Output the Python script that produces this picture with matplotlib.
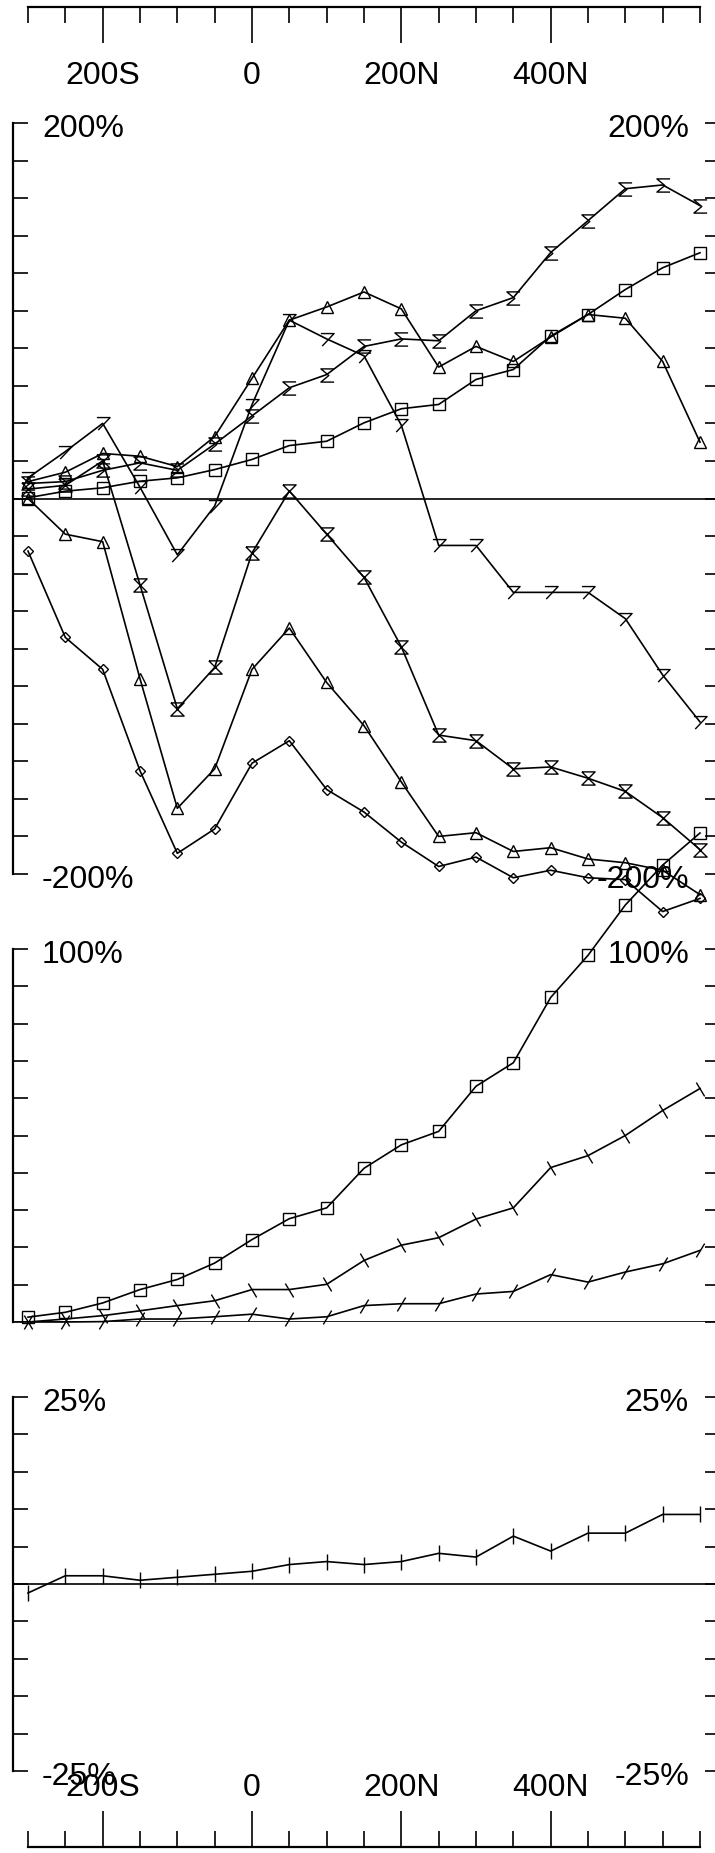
import matplotlib
matplotlib.use('Agg')
import matplotlib.pyplot as plt
from matplotlib.path import Path
import numpy as np

plt.rcParams['font.family'] = ['Liberation Sans', 'DejaVu Sans']

# distance along the section, negative = south
dist = [-300, -250, -200, -150, -100, -50, 0, 50, 100, 150, 200, 250, 300, 350, 400, 450, 500, 550, 600]
top_ticks = [-200, 0, 200, 400]
top_labels = ['200S', '0', '200N', '400N']

# panel 1 (-200% .. 200%)
p1_sigma = [8, 9, 15, 19, 15, 29, 44, 59, 66, 81, 85, 84, 100, 107, 131, 148, 165, 167, 156]
p1_square = [0.4, 3.9, 5.7, 9.2, 11, 15.4, 20.8, 28.2, 30.5, 40.3, 47.8, 50.1, 63.4, 68.7, 86.5, 98, 111.3, 122.9, 130.9]
p1_tri_up = [9, 14, 24, 22.5, 17, 33, 64, 95, 102, 110, 101, 70, 81, 73, 86, 98, 96, 73, 30]
p1_seven = [11, 25, 40, 6, -30, -4, 50, 95, 85, 76, 39, -25, -25, -50, -50, -50, -64, -94, -119]
p1_hourglass = [5, 7, 20, -46, -112, -90, -29, 4, -19, -42, -79, -126, -129, -144, -143, -149, -156, -170, -187]
p1_tri_low = [0, -19, -23, -96, -165, -144, -91, -69, -98, -121, -151, -180, -178, -188, -186, -192, -194, -198, -211]
p1_diamond = [-28, -74, -91, -145, -189, -176, -141, -129, -155, -167, -183, -196, -191, -202, -198, -202, -203, -220, -213]

# panel 2 (0 .. 100%)
p2_square = [1.3, 2.6, 5.1, 8.7, 11.4, 15.8, 22.1, 27.7, 30.6, 41.2, 47.5, 51.1, 63.2, 69.5, 87, 98.3, 111.8, 122.5, 131.1]
p2_mid = [0, 0.8, 1.7, 3.0, 4.4, 5.7, 8.7, 8.7, 10.1, 16.5, 20.6, 22.6, 27.6, 30.6, 41.4, 44.6, 50.0, 56.7, 62.6]
p2_low = [0, 0, 0.1, 0.8, 0.8, 1.4, 2.1, 0.8, 1.4, 4.4, 4.9, 4.9, 7.5, 8.2, 12.7, 10.7, 13.4, 15.6, 19.2]

# panel 3 (-25% .. 25%)
p3_vals = [-1.2, 1.1, 1.1, 0.5, 0.9, 1.3, 1.7, 2.6, 3.0, 2.6, 3.0, 4.1, 3.6, 6.4, 4.4, 6.8, 6.8, 9.3, 9.3]

# custom markers
M, L = Path.MOVETO, Path.LINETO
sigma = Path([(0.5, 0.5), (-0.5, 0.5), (0.1, 0), (-0.5, -0.5), (0.5, -0.5)], [M, L, L, L, L])
hourglass = Path([(-0.5, 0.5), (0.5, 0.5), (-0.5, -0.5), (0.5, -0.5), (-0.5, 0.5)], [M, L, L, L, L])
seven = Path([(-0.5, 0.45), (0.5, 0.45), (-0.4, -0.5)], [M, L, L])
slash = Path([(-0.3, -0.5), (0.3, 0.5)], [M, L])
bslash = Path([(-0.3, 0.5), (0.3, -0.5)], [M, L])

W, H = 715, 1853
LEFT, RIGHT = 12.5, 720.0
XMIN = -300 - (28 - LEFT) / (672 / 900)
XMAX = 600 + (RIGHT - 700) / (672 / 900)
FS = 23

fig = plt.figure(figsize=(W / 100, H / 100), dpi=100)


def add_axes(top, bottom):
    return fig.add_axes([LEFT / W, 1 - bottom / H, (RIGHT - LEFT) / W, (bottom - top) / H])


def panel(top, bottom, lo, hi, step, txt_hi, txt_lo):
    ax = add_axes(top, bottom)
    ax.set_xlim(XMIN, XMAX)
    ax.set_ylim(lo, hi)
    ax.patch.set_visible(False)
    for s in ['top', 'bottom', 'right']:
        ax.spines[s].set_visible(False)
    ax.spines['left'].set_linewidth(1.6)
    ax.set_xticks([])
    ax.set_yticks(np.arange(lo, hi + step / 2, step))
    ax.tick_params(axis='y', direction='in', left=True, right=True, labelleft=False,
                   length=10.8, width=1.2)
    ax.axhline(0, color='k', lw=1.2)
    for val, txt in [(hi, txt_hi), (lo, txt_lo)]:
        if txt is None:
            continue
        ax.annotate(txt, xy=(0, val), xycoords=('axes fraction', 'data'), xytext=(29.5, -6),
                    textcoords='offset pixels', ha='left', va='center', fontsize=FS)
        ax.annotate(txt, xy=(1, val), xycoords=('axes fraction', 'data'), xytext=(-31, -6),
                    textcoords='offset pixels', ha='right', va='center', fontsize=FS)
    return ax


def series(ax, vals, marker, ms):
    ax.plot(dist, vals, color='k', lw=1.2, marker=marker, ms=ms, mfc='none', mec='k',
            mew=1.0, clip_on=False)


ax1 = panel(123, 874, -200, 200, 20, '200%', '-200%')
series(ax1, p1_sigma, sigma, 9.5)
series(ax1, p1_square, 's', 8.5)
series(ax1, p1_tri_up, '^', 8.5)
series(ax1, p1_seven, seven, 9.5)
series(ax1, p1_hourglass, hourglass, 9.5)
series(ax1, p1_tri_low, '^', 8.5)
series(ax1, p1_diamond, 'D', 5)

ax2 = panel(949, 1322, 0, 100, 10, '100%', None)
series(ax2, p2_square, 's', 9)
series(ax2, p2_mid, bslash, 10)
series(ax2, p2_low, slash, 10)

ax3 = panel(1397, 1771, -25, 25, 5, '25%', '-25%')
series(ax3, p3_vals, '|', 12)


def dist_axis(top, bottom, side):
    ax = add_axes(top, bottom)
    ax.set_xlim(XMIN, XMAX)
    ax.patch.set_visible(False)
    for s in ['top', 'bottom', 'left', 'right']:
        ax.spines[s].set_visible(s == side)
    ax.spines[side].set_bounds(-300, 600)
    ax.spines[side].set_linewidth(1.6)
    ax.set_yticks([])
    ax.set_xticks(top_ticks)
    ax.set_xticklabels(top_labels, fontsize=FS)
    ax.set_xticks([t for t in range(-300, 601, 50) if t not in top_ticks], minor=True)
    other = 'bottom' if side == 'top' else 'top'
    ax.tick_params(axis='x', which='both', direction='in', width=1.2,
                   **{side: True, other: False, 'label' + side: False, 'label' + other: True})
    ax.tick_params(axis='x', which='major', length=25.9, pad=3)
    ax.tick_params(axis='x', which='minor', length=11.5)
    return ax


dist_axis(7, 57, 'top')
dist_axis(1807, 1847, 'bottom')

fig.savefig('out.png', dpi=100)
